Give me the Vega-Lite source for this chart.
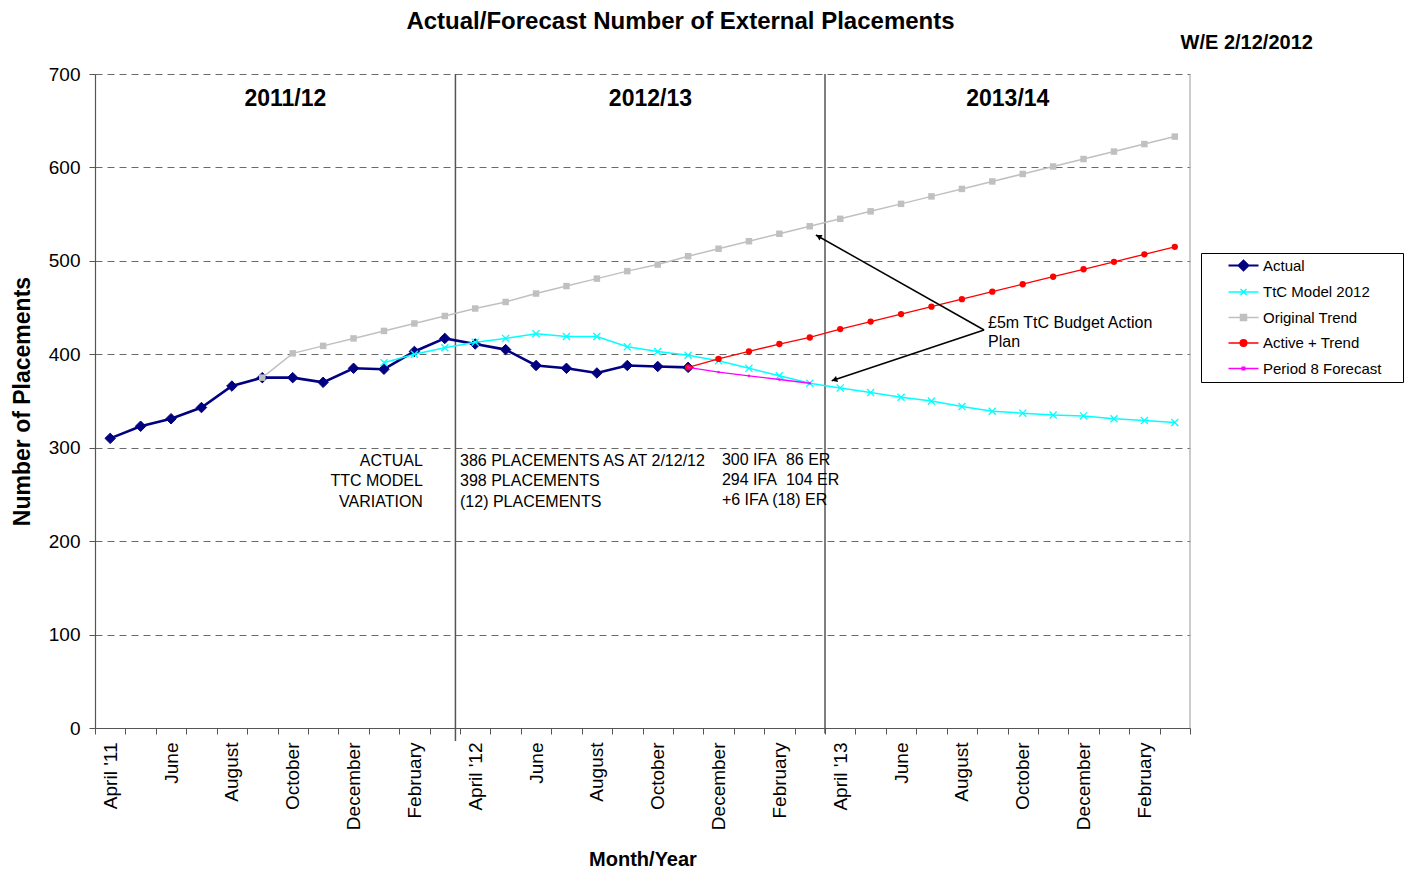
{
  "$schema": "https://vega.github.io/schema/vega-lite/v6.json",
  "width": 1095,
  "height": 654,
  "autosize": {"type": "none"},
  "padding": {"left": 95, "top": 74, "right": 220, "bottom": 143},
  "background": "white",
  "config": {
    "view": {"stroke": null},
    "font": "Liberation Sans",
    "text": {"font": "Liberation Sans", "color": "#000"}
  },
  "title": {
    "text": "Actual/Forecast Number of External Placements",
    "anchor": "middle",
    "frame": "group",
    "dx": 38,
    "offset": -1,
    "font": "Liberation Sans",
    "fontSize": 24,
    "fontWeight": "bold",
    "color": "#000"
  },
  "datasets": {
    "series": [
      {"s": "Actual", "t": 0, "v": 310}, {"s": "Actual", "t": 1, "v": 323}, {"s": "Actual", "t": 2, "v": 331}, {"s": "Actual", "t": 3, "v": 343},
      {"s": "Actual", "t": 4, "v": 366}, {"s": "Actual", "t": 5, "v": 375}, {"s": "Actual", "t": 6, "v": 375}, {"s": "Actual", "t": 7, "v": 370},
      {"s": "Actual", "t": 8, "v": 385}, {"s": "Actual", "t": 9, "v": 384}, {"s": "Actual", "t": 10, "v": 403}, {"s": "Actual", "t": 11, "v": 417},
      {"s": "Actual", "t": 12, "v": 411}, {"s": "Actual", "t": 13, "v": 405}, {"s": "Actual", "t": 14, "v": 388}, {"s": "Actual", "t": 15, "v": 385},
      {"s": "Actual", "t": 16, "v": 380}, {"s": "Actual", "t": 17, "v": 388}, {"s": "Actual", "t": 18, "v": 387}, {"s": "Actual", "t": 19, "v": 386},
      {"s": "TtC Model 2012", "t": 9, "v": 391}, {"s": "TtC Model 2012", "t": 10, "v": 400}, {"s": "TtC Model 2012", "t": 11, "v": 407},
      {"s": "TtC Model 2012", "t": 12, "v": 413}, {"s": "TtC Model 2012", "t": 13, "v": 417}, {"s": "TtC Model 2012", "t": 14, "v": 422},
      {"s": "TtC Model 2012", "t": 15, "v": 419}, {"s": "TtC Model 2012", "t": 16, "v": 419}, {"s": "TtC Model 2012", "t": 17, "v": 408},
      {"s": "TtC Model 2012", "t": 18, "v": 403}, {"s": "TtC Model 2012", "t": 19, "v": 399}, {"s": "TtC Model 2012", "t": 20, "v": 393},
      {"s": "TtC Model 2012", "t": 21, "v": 385}, {"s": "TtC Model 2012", "t": 22, "v": 377}, {"s": "TtC Model 2012", "t": 23, "v": 369},
      {"s": "TtC Model 2012", "t": 24, "v": 364}, {"s": "TtC Model 2012", "t": 25, "v": 359}, {"s": "TtC Model 2012", "t": 26, "v": 354},
      {"s": "TtC Model 2012", "t": 27, "v": 350}, {"s": "TtC Model 2012", "t": 28, "v": 344}, {"s": "TtC Model 2012", "t": 29, "v": 339},
      {"s": "TtC Model 2012", "t": 30, "v": 337}, {"s": "TtC Model 2012", "t": 31, "v": 335}, {"s": "TtC Model 2012", "t": 32, "v": 334},
      {"s": "TtC Model 2012", "t": 33, "v": 331}, {"s": "TtC Model 2012", "t": 34, "v": 329}, {"s": "TtC Model 2012", "t": 35, "v": 327},
      {"s": "Original Trend", "t": 5, "v": 375}, {"s": "Original Trend", "t": 6, "v": 401}, {"s": "Original Trend", "t": 7, "v": 409},
      {"s": "Original Trend", "t": 8, "v": 417}, {"s": "Original Trend", "t": 9, "v": 425}, {"s": "Original Trend", "t": 10, "v": 433},
      {"s": "Original Trend", "t": 11, "v": 441}, {"s": "Original Trend", "t": 12, "v": 449}, {"s": "Original Trend", "t": 13, "v": 456},
      {"s": "Original Trend", "t": 14, "v": 465}, {"s": "Original Trend", "t": 15, "v": 473}, {"s": "Original Trend", "t": 16, "v": 481},
      {"s": "Original Trend", "t": 17, "v": 489}, {"s": "Original Trend", "t": 18, "v": 496}, {"s": "Original Trend", "t": 19, "v": 505},
      {"s": "Original Trend", "t": 20, "v": 513}, {"s": "Original Trend", "t": 21, "v": 521}, {"s": "Original Trend", "t": 22, "v": 529},
      {"s": "Original Trend", "t": 23, "v": 537}, {"s": "Original Trend", "t": 24, "v": 545}, {"s": "Original Trend", "t": 25, "v": 553},
      {"s": "Original Trend", "t": 26, "v": 561}, {"s": "Original Trend", "t": 27, "v": 569}, {"s": "Original Trend", "t": 28, "v": 577},
      {"s": "Original Trend", "t": 29, "v": 585}, {"s": "Original Trend", "t": 30, "v": 593}, {"s": "Original Trend", "t": 31, "v": 601},
      {"s": "Original Trend", "t": 32, "v": 609}, {"s": "Original Trend", "t": 33, "v": 617}, {"s": "Original Trend", "t": 34, "v": 625},
      {"s": "Original Trend", "t": 35, "v": 633},
      {"s": "Active + Trend", "t": 19, "v": 386}, {"s": "Active + Trend", "t": 20, "v": 395}, {"s": "Active + Trend", "t": 21, "v": 403},
      {"s": "Active + Trend", "t": 22, "v": 411}, {"s": "Active + Trend", "t": 23, "v": 418}, {"s": "Active + Trend", "t": 24, "v": 427},
      {"s": "Active + Trend", "t": 25, "v": 435}, {"s": "Active + Trend", "t": 26, "v": 443}, {"s": "Active + Trend", "t": 27, "v": 451},
      {"s": "Active + Trend", "t": 28, "v": 459}, {"s": "Active + Trend", "t": 29, "v": 467}, {"s": "Active + Trend", "t": 30, "v": 475},
      {"s": "Active + Trend", "t": 31, "v": 483}, {"s": "Active + Trend", "t": 32, "v": 491}, {"s": "Active + Trend", "t": 33, "v": 499},
      {"s": "Active + Trend", "t": 34, "v": 507}, {"s": "Active + Trend", "t": 35, "v": 515},
      {"s": "Period 8 Forecast", "t": 19, "v": 386}, {"s": "Period 8 Forecast", "t": 20, "v": 381}, {"s": "Period 8 Forecast", "t": 21, "v": 377},
      {"s": "Period 8 Forecast", "t": 22, "v": 373}, {"s": "Period 8 Forecast", "t": 23, "v": 369}
    ],
    "dividers": [
      {"t": 11.35, "v": -14, "v2": 700},
      {"t": 23.5, "v": -6, "v2": 700}
    ],
    "border": [
      {"t": 35.5, "v": 0, "v2": 700}
    ],
    "years": [
      {"t": 5.76, "v": 673.5, "label": "2011/12"},
      {"t": 17.76, "v": 673.5, "label": "2012/13"},
      {"t": 29.51, "v": 673.5, "label": "2013/14"}
    ],
    "notesRight": [
      {"t": 10.28, "v": 285.8, "label": "ACTUAL"},
      {"t": 10.28, "v": 264.4, "label": "TTC MODEL"},
      {"t": 10.28, "v": 241.9, "label": "VARIATION"}
    ],
    "notesLeft": [
      {"t": 11.5, "v": 285.8, "label": "386 PLACEMENTS AS AT 2/12/12"},
      {"t": 11.5, "v": 264.4, "label": "398 PLACEMENTS"},
      {"t": 11.5, "v": 241.9, "label": "(12) PLACEMENTS"},
      {"t": 20.11, "v": 286.9, "label": "300 IFA\u00a0\u00a086 ER"},
      {"t": 20.11, "v": 265.4, "label": "294 IFA\u00a0\u00a0104 ER"},
      {"t": 20.11, "v": 244.0, "label": "+6 IFA (18) ER"},
      {"t": 28.86, "v": 433.5, "label": "£5m TtC Budget Action"},
      {"t": 28.86, "v": 413.1, "label": "Plan"}
    ],
    "we": [
      {"t": 39.54, "v": 733.2, "label": "W/E 2/12/2012"}
    ],
    "arrows": [
      {"t": 28.73, "v": 426.0, "t2": 23.2, "v2": 527.7},
      {"t": 28.73, "v": 426.0, "t2": 23.72, "v2": 371.7}
    ],
    "head1": [{"t": 23.29, "v": 526.1}],
    "head2": [{"t": 23.81, "v": 372.7}]
  },
  "encoding": {
    "x": {
      "field": "t",
      "type": "quantitative",
      "scale": {"domain": [-0.5, 35.5], "nice": false, "zero": false},
      "axis": {
        "title": "Month/Year",
        "titleFont": "Liberation Sans",
        "titleFontSize": 20,
        "titleFontWeight": "bold",
        "titleColor": "#000",
        "titlePadding": 20,
        "values": [-0.5, 0.5, 1.5, 2.5, 3.5, 4.5, 5.5, 6.5, 7.5, 8.5, 9.5, 10.5, 11.5, 12.5, 13.5, 14.5, 15.5, 16.5, 17.5, 18.5, 19.5, 20.5, 21.5, 22.5, 23.5, 24.5, 25.5, 26.5, 27.5, 28.5, 29.5, 30.5, 31.5, 32.5, 33.5, 34.5, 35.5],
        "labelExpr": "[\"April '11\",\"\",\"June\",\"\",\"August\",\"\",\"October\",\"\",\"December\",\"\",\"February\",\"\",\"April '12\",\"\",\"June\",\"\",\"August\",\"\",\"October\",\"\",\"December\",\"\",\"February\",\"\",\"April '13\",\"\",\"June\",\"\",\"August\",\"\",\"October\",\"\",\"December\",\"\",\"February\",\"\",\"\"][round(datum.value + 0.5)]",
        "labelAngle": -90,
        "labelAlign": "right",
        "labelBaseline": "middle",
        "labelOffset": 15.2,
        "labelPadding": 8,
        "labelFont": "Liberation Sans",
        "labelFontSize": 19,
        "labelColor": "#000",
        "labelOverlap": false,
        "labelFlush": false,
        "labelBound": false,
        "tickSize": 6,
        "tickColor": "#555",
        "domainColor": "#555",
        "domainWidth": 1.2,
        "grid": false
      }
    },
    "y": {
      "field": "v",
      "type": "quantitative",
      "scale": {"domain": [0, 700], "nice": false},
      "axis": {
        "title": "Number of Placements",
        "titleFont": "Liberation Sans",
        "titleFontSize": 23,
        "titleFontWeight": "bold",
        "titleColor": "#000",
        "titlePadding": 14,
        "values": [0, 100, 200, 300, 400, 500, 600, 700],
        "labelFont": "Liberation Sans",
        "labelFontSize": 19,
        "labelColor": "#000",
        "labelPadding": 9,
        "labelFlush": false,
        "tickSize": 6,
        "tickColor": "#555",
        "domainColor": "#555",
        "domainWidth": 1.2,
        "grid": true,
        "gridColor": "#6a6a6a",
        "gridDash": [7, 5],
        "gridWidth": 1
      }
    }
  },
  "layer": [
    {
      "data": {"name": "border"},
      "mark": {"type": "rule", "color": "#aaaaaa", "strokeWidth": 1.2},
      "encoding": {"y2": {"field": "v2"}}
    },
    {
      "data": {"name": "dividers"},
      "mark": {"type": "rule", "color": "#555555", "strokeWidth": 1.5},
      "encoding": {"y2": {"field": "v2"}}
    },
    {
      "data": {"name": "series"},
      "transform": [{"filter": "datum.s === 'Actual'"}],
      "mark": {"type": "line", "strokeWidth": 2.6},
      "encoding": {
        "color": {
          "field": "s",
          "type": "nominal",
          "scale": {
            "domain": ["Actual", "TtC Model 2012", "Original Trend", "Active + Trend", "Period 8 Forecast"],
            "range": ["#000080", "#00FFFF", "#C0C0C0", "#FF0000", "#FF00FF"]
          },
          "legend": {
            "title": ".",
            "titleOrient": "right",
            "titleOpacity": 0,
            "titleFontSize": 8,
            "titlePadding": 14,
            "orient": "none",
            "legendX": 1106,
            "legendY": 179,
            "strokeColor": "#000",
            "fillColor": "white",
            "padding": 5,
            "symbolSize": 900,
            "symbolOffset": 30,
            "labelOffset": 12,
            "labelFont": "Liberation Sans",
            "labelFontSize": 15,
            "labelColor": "#000",
            "rowPadding": 9.5,
            "encode": {
              "symbols": {
                "update": {
                  "shape": {"signal": "datum.value === 'Actual' ? 'M-1,0L1,0M0,-0.32L0.32,0L0,0.32L-0.32,0Z' : datum.value === 'TtC Model 2012' ? 'M-1,0L1,0M-0.2,-0.2L0.2,0.2M-0.2,0.2L0.2,-0.2' : datum.value === 'Original Trend' ? 'M-1,0L1,0M-0.2,-0.2L0.2,-0.2L0.2,0.2L-0.2,0.2Z' : datum.value === 'Active + Trend' ? 'M-1,0L1,0M-0.22,0A0.22,0.22,0,1,0,0.22,0A0.22,0.22,0,1,0,-0.22,0Z' : 'M-1,0L1,0M-0.08,-0.08L0.08,-0.08L0.08,0.08L-0.08,0.08Z'"},
                  "size": {"value": 900},
                  "fill": {"signal": "scale('color', datum.value)"},
                  "stroke": {"signal": "scale('color', datum.value)"},
                  "strokeWidth": {"signal": "datum.value === 'Actual' ? 2.2 : 1.5"},
                  "opacity": {"value": 1},
                  "fillOpacity": {"value": 1}
                }
              }
            }
          }
        }
      }
    },
    {
      "data": {"name": "series"},
      "transform": [{"filter": "datum.s === 'Actual'"}],
      "mark": {"type": "point", "shape": "diamond", "size": 110, "filled": true, "color": "#000080", "opacity": 1, "stroke": "#000080", "strokeWidth": 1}
    },
    {
      "data": {"name": "series"},
      "transform": [{"filter": "datum.s === 'TtC Model 2012'"}],
      "mark": {"type": "line", "strokeWidth": 1.5, "color": "#00FFFF"}
    },
    {
      "data": {"name": "series"},
      "transform": [{"filter": "datum.s === 'TtC Model 2012'"}],
      "mark": {"type": "point", "shape": "M-1,-1L1,1M-1,1L1,-1", "size": 50, "filled": false, "color": "#00FFFF", "opacity": 1, "strokeWidth": 1.3}
    },
    {
      "data": {"name": "series"},
      "transform": [{"filter": "datum.s === 'Original Trend'"}],
      "mark": {"type": "line", "strokeWidth": 1.5, "color": "#C0C0C0"}
    },
    {
      "data": {"name": "series"},
      "transform": [{"filter": "datum.s === 'Original Trend'"}],
      "mark": {"type": "point", "shape": "square", "size": 42, "filled": true, "color": "#C0C0C0", "opacity": 1}
    },
    {
      "data": {"name": "series"},
      "transform": [{"filter": "datum.s === 'Active + Trend'"}],
      "mark": {"type": "line", "strokeWidth": 1.3, "color": "#FF0000"}
    },
    {
      "data": {"name": "series"},
      "transform": [{"filter": "datum.s === 'Active + Trend'"}],
      "mark": {"type": "point", "shape": "circle", "size": 40, "filled": true, "color": "#FF0000", "opacity": 1}
    },
    {
      "data": {"name": "series"},
      "transform": [{"filter": "datum.s === 'Period 8 Forecast'"}],
      "mark": {"type": "line", "strokeWidth": 1.3, "color": "#FF00FF"}
    },
    {
      "data": {"name": "series"},
      "transform": [{"filter": "datum.s === 'Period 8 Forecast'"}],
      "mark": {"type": "point", "shape": "square", "size": 5, "filled": true, "color": "#FF00FF", "opacity": 1}
    },
    {
      "data": {"name": "years"},
      "mark": {"type": "text", "font": "Liberation Sans", "fontSize": 23, "fontWeight": "bold", "align": "center", "baseline": "middle", "color": "#000"},
      "encoding": {"text": {"field": "label"}}
    },
    {
      "data": {"name": "notesRight"},
      "mark": {"type": "text", "font": "Liberation Sans", "fontSize": 16, "align": "right", "baseline": "middle", "color": "#000"},
      "encoding": {"text": {"field": "label"}}
    },
    {
      "data": {"name": "notesLeft"},
      "mark": {"type": "text", "font": "Liberation Sans", "fontSize": 16, "align": "left", "baseline": "middle", "color": "#000"},
      "encoding": {"text": {"field": "label"}}
    },
    {
      "data": {"name": "we"},
      "mark": {"type": "text", "font": "Liberation Sans", "fontSize": 20, "fontWeight": "bold", "align": "right", "baseline": "middle", "color": "#000"},
      "encoding": {"text": {"field": "label"}}
    },
    {
      "data": {"name": "arrows"},
      "mark": {"type": "rule", "color": "#000", "strokeWidth": 1.5},
      "encoding": {"x2": {"field": "t2"}, "y2": {"field": "v2"}}
    },
    {
      "data": {"name": "head1"},
      "mark": {"type": "point", "shape": "triangle-up", "size": 40, "filled": true, "color": "#000", "opacity": 1, "angle": 299.5}
    },
    {
      "data": {"name": "head2"},
      "mark": {"type": "point", "shape": "triangle-up", "size": 40, "filled": true, "color": "#000", "opacity": 1, "angle": 251.6}
    }
  ]
}
